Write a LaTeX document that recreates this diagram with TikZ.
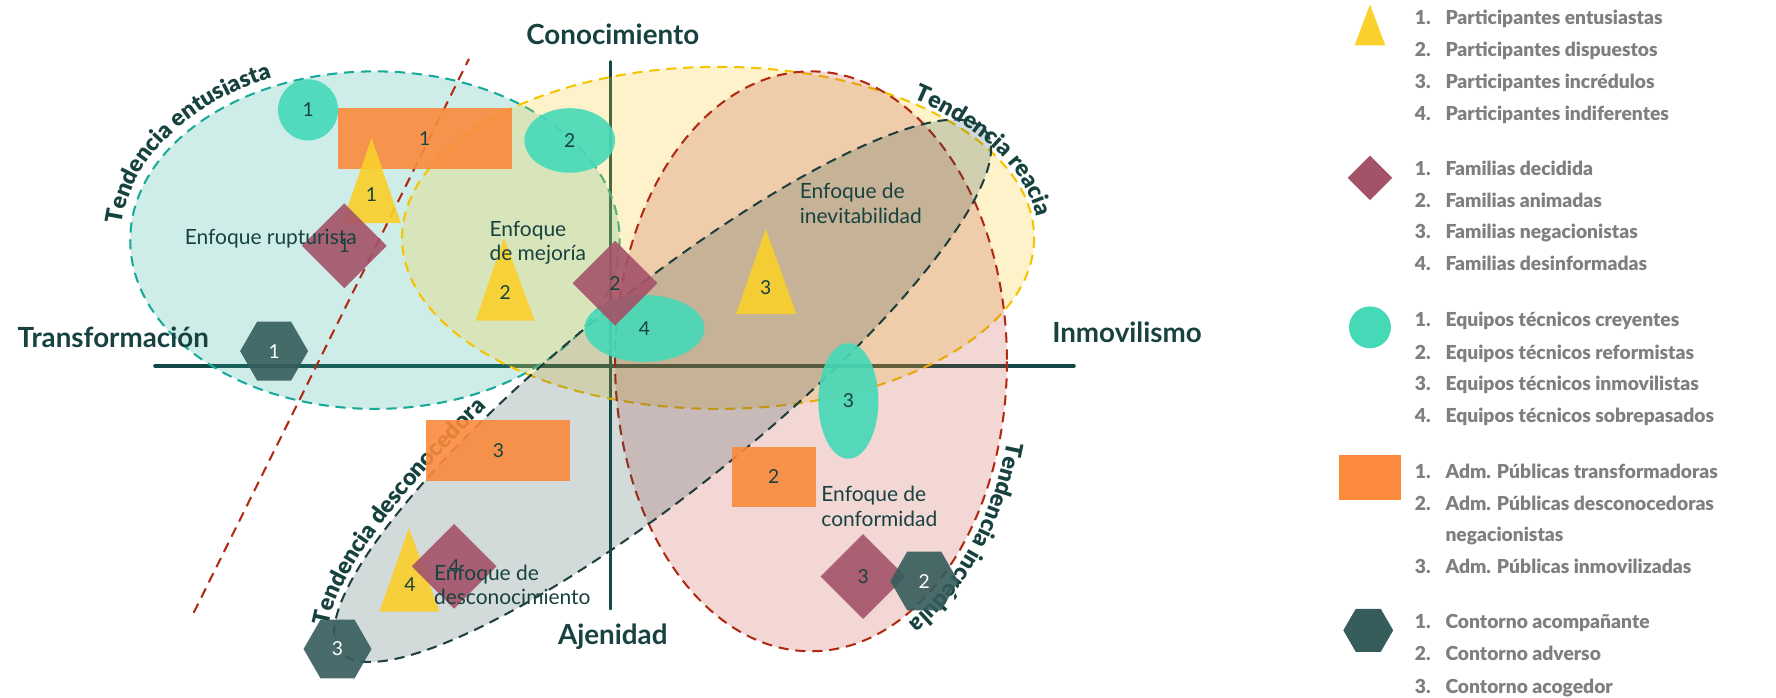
\documentclass[tikz,border=0pt]{standalone}
\usepackage{fontspec}
\setmainfont{Lato}
\newfontfamily\heavyfont{Lato Black}
\usepackage{xcolor}
\usepackage{tikz}
\usetikzlibrary{shapes.geometric, decorations.text}

\definecolor{ink}{HTML}{17423F}
\definecolor{axisc}{HTML}{124845}
\definecolor{legendgrey}{HTML}{7F7F7F}
\definecolor{tealc}{HTML}{17A999}
\definecolor{tealfill}{HTML}{2DB3A4}
\definecolor{yellowc}{HTML}{F5C400}
\definecolor{yellowfill}{HTML}{F9CF2F}
\definecolor{redc}{HTML}{B02A12}
\definecolor{redfill}{HTML}{C0392B}
\definecolor{greyc}{HTML}{1E3F3D}
\definecolor{greyfill}{HTML}{1F4A4A}
\definecolor{trianglec}{HTML}{FAD02A}
\definecolor{diamondc}{HTML}{A45268}
\definecolor{circlec}{HTML}{45D9B8}
\definecolor{rectc}{HTML}{FB8A3C}
\definecolor{hexc}{HTML}{365C5C}

\newcommand{\tendfont}{\heavyfont\fontsize{20.5}{22}\selectfont}

\begin{document}
\begin{tikzpicture}[x=1pt, y=-1pt,
    axis/.style={line width=3.5, draw=axisc, line cap=round},
    axislabel/.style={font=\fontsize{24.5}{28}\selectfont\bfseries, text=ink},
    zone/.style={dash pattern=on 9 off 6, line width=1.8},
    approach/.style={font=\fontsize{18.5}{21.5}\selectfont, text=ink, align=left, inner sep=0, anchor=west},
    marker/.style={fill opacity=0.9, text opacity=1, inner sep=0, font=\fontsize{17}{18}\selectfont, text=ink},
    circ/.style={marker, ellipse, fill=circlec},
    admbox/.style={marker, rectangle, fill=rectc},
    famdiamond/.style={marker, diamond, fill=diamondc, minimum width=75, minimum height=75},
    hexa/.style={marker, regular polygon, regular polygon sides=6, fill=hexc, text=white, minimum size=60},
    tri/.style={fill=trianglec, fill opacity=0.9},
    num/.style={inner sep=0, font=\fontsize{17}{18}\selectfont, text=ink},
    legitem/.style={anchor=base west, inner sep=0, font=\heavyfont\fontsize{17}{20}\selectfont, text=legendgrey}
]
    \fill[white] (0,0) rectangle (1568,616);
    \useasboundingbox (0,0) rectangle (1568,616);

    % Axes
    \draw[axis] (137,323) -- (948,323);
    \draw[axis] (539,55) -- (539,537);

    % Tendencies
    \filldraw[zone, draw=tealc, fill=tealfill, fill opacity=0.23] (331,212) ellipse [x radius=216, y radius=149];
    \filldraw[zone, draw=yellowc, fill=yellowfill, fill opacity=0.25] (634,210) ellipse [x radius=279, y radius=151];
    \filldraw[zone, draw=redc, fill=redfill, fill opacity=0.2] (716,319) ellipse [x radius=173, y radius=256];
    \begin{scope}[shift={(585,345)}, rotate=38.9]
        \filldraw[zone, draw=greyc, fill=greyfill, fill opacity=0.2] (0,0) ellipse [x radius=366, y radius=86];
        \path[decorate, decoration={text along path, text align=center, text color=ink,
            text={|\tendfont|Tendencia desconocedora}}]
            (0,0) ++(172:372 and 92) arc[start angle=172, end angle=256, x radius=372, y radius=92];
    \end{scope}
    \draw[zone, draw=redc] (171,541) -- (414,52);

    % Tendency labels
    \path[decorate, decoration={text along path, text align=center, text color=ink,
        text={|\tendfont|Tendencia entusiasta}}]
        (331,212) ++(163:224 and 157) arc[start angle=163, end angle=262, x radius=224, y radius=157];
    \path[decorate, decoration={text along path, text align=center, text color=ink,
        text={|\tendfont|Tendencia reacia}}]
        (634,210) ++(296:283 and 155) arc[start angle=296, end angle=372, x radius=283, y radius=155];
    \path[decorate, decoration={text along path, text align=center, text color=ink,
        text={|\tendfont|Tendencia incrédula}}]
        (716,319) ++(4:180 and 263) arc[start angle=4, end angle=77, x radius=180, y radius=263];

    % Adm. Publicas
    \node[admbox, minimum width=154, minimum height=54] (r1) at (375,122) {1};
    \node[admbox, minimum width=127, minimum height=54] (r3) at (440,398) {3};
    \node[admbox, minimum width=74, minimum height=53] (r2) at (683,421) {2};

    % Equipos tecnicos
    \node[circ, minimum width=53, minimum height=54] (c1) at (272,97) {1};
    \node[circ, minimum width=80, minimum height=57] (c2) at (503,124) {2};
    \node[circ, minimum width=53, minimum height=102] (c3) at (749,354) {3};
    \node[circ, minimum width=106, minimum height=59] (c4) at (569,290) {4};

    % Participantes
    \fill[tri] (328,122) -- (354,197) -- (302,197) -- cycle;
    \node[num] (t1) at (328,172) {1};
    \fill[tri] (445,210) -- (472,283) -- (420,283) -- cycle;
    \node[num] (t2) at (446,258) {2};
    \fill[tri] (676,202) -- (703,277) -- (650,277) -- cycle;
    \node[num] (t3) at (676,254) {3};
    \fill[tri] (361,466) -- (388,540) -- (335,540) -- cycle;
    \node[num] (t4) at (362,516) {4};

    % Familias
    \node[famdiamond] (d1) at (304,217) {1};
    \node[famdiamond] (d2) at (543,250) {2};
    \node[famdiamond] (d3) at (762,509) {3};
    \node[famdiamond] (d4) at (401,500) {4};

    % Contorno
    \node[hexa] (h1) at (242,310) {1};
    \node[hexa] (h2) at (816,513) {2};
    \node[hexa] (h3) at (298,573) {3};

    % Approaches
    \node[approach] (rupt) at (163,211) {Enfoque rupturista};
    \node[approach] (mejora) at (432,214.5) {Enfoque\\de mejoría};
    \node[approach] (inev) at (706,179.5) {Enfoque de\\inevitabilidad};
    \node[approach] (desc) at (383,516.5) {Enfoque de\\desconocimiento};
    \node[approach] (conf) at (725,447) {Enfoque de\\conformidad};

    % Axis labels
    \node[axislabel] (know) at (541,30) {Conocimiento};
    \node[axislabel] (alien) at (541,562) {Ajenidad};
    \node[axislabel] (transf) at (100,298) {Transformación};
    \node[axislabel] (immob) at (995,293) {Inmovilismo};

    % Legend
    \fill[trianglec] (1209.5,4) -- (1223,40) -- (1196,40) -- cycle;
    \node[legitem] (p1) at (1249,21.5) {\makebox[27pt][l]{1.}Participantes entusiastas};
    \node[legitem] (p2) at (1249,49.5) {\makebox[27pt][l]{2.}Participantes dispuestos};
    \node[legitem] (p3) at (1249,78) {\makebox[27pt][l]{3.}Participantes incrédulos};
    \node[legitem] (p4) at (1249,106) {\makebox[27pt][l]{4.}Participantes indiferentes};

    \node[diamond, fill=diamondc, inner sep=0, minimum width=39.5, minimum height=39.5] (legd) at (1209.5,157) {};
    \node[legitem] (f1) at (1249,155) {\makebox[27pt][l]{1.}Familias decidida};
    \node[legitem] (f2) at (1249,183) {\makebox[27pt][l]{2.}Familias animadas};
    \node[legitem] (f3) at (1249,211) {\makebox[27pt][l]{3.}Familias negacionistas};
    \node[legitem] (f4) at (1249,239) {\makebox[27pt][l]{4.}Familias desinformadas};

    \node[circle, fill=circlec, inner sep=0, minimum size=37] (legc) at (1209.5,289) {};
    \node[legitem] (e1) at (1249,288.5) {\makebox[27pt][l]{1.}Equipos técnicos creyentes};
    \node[legitem] (e2) at (1249,317) {\makebox[27pt][l]{2.}Equipos técnicos reformistas};
    \node[legitem] (e3) at (1249,345) {\makebox[27pt][l]{3.}Equipos técnicos inmovilistas};
    \node[legitem] (e4) at (1249,373) {\makebox[27pt][l]{4.}Equipos técnicos sobrepasados};

    \fill[rectc] (1182,402) rectangle (1237,441);
    \node[legitem] (a1) at (1249,422.5) {\makebox[27pt][l]{1.}Adm. Públicas transformadoras};
    \node[legitem] (a2) at (1249,450.5) {\makebox[27pt][l]{2.}Adm. Públicas desconocedoras};
    \node[legitem] (a2b) at (1276,478.5) {negacionistas};
    \node[legitem] (a3) at (1249,506.5) {\makebox[27pt][l]{3.}Adm. Públicas inmovilizadas};

    \node[regular polygon, regular polygon sides=6, fill=hexc, inner sep=0, minimum size=44] (legh) at (1208,556.5) {};
    \node[legitem] (o1) at (1249,555) {\makebox[27pt][l]{1.}Contorno acompañante};
    \node[legitem] (o2) at (1249,583) {\makebox[27pt][l]{2.}Contorno adverso};
    \node[legitem] (o3) at (1249,612) {\makebox[27pt][l]{3.}Contorno acogedor};
\end{tikzpicture}
\end{document}
